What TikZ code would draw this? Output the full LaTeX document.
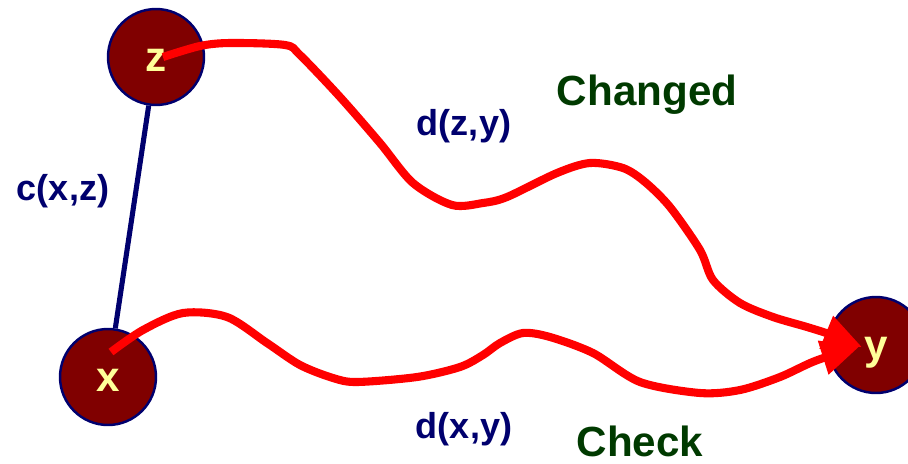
\documentclass[tikz,border=0pt]{standalone}
\usepackage{fontspec}
\setmainfont{Liberation Sans}
\usetikzlibrary{arrows.meta,calc}

\definecolor{nodered}{RGB}{128,0,0}
\definecolor{navyblue}{RGB}{0,0,110}
\definecolor{paleyellow}{RGB}{255,255,153}
\definecolor{darkgreen}{RGB}{0,58,0}

\begin{document}
\begin{tikzpicture}[x=0.02cm, y=-0.02cm,
		vertex/.style={circle, draw=navyblue, line width=1.4pt, fill=nodered, minimum size=1.92cm, inner sep=0pt,
			text=paleyellow, font=\fontsize{24}{24}\selectfont\bfseries, text height=17pt, text depth=0pt},
		route/.style={red, line width=4.6pt, smooth, tension=0.5, -{Triangle[length=22pt, width=19pt]}},
		cost/.style={text=navyblue, font=\fontsize{20.5}{20.5}\selectfont\bfseries, anchor=base},
		note/.style={text=darkgreen, font=\fontsize{24}{24}\selectfont\bfseries, anchor=base}]
		\useasboundingbox (0, 0) rectangle (908, 463);

		\node[vertex] (z) at (156, 57) {z};
		\node[vertex] (x) at (108, 377) {x};
		\node[vertex] (y) at (876, 345) {y};

		\draw[navyblue, line width=2.9pt] (z) -- (x);

		% path through z
		\draw[route] plot coordinates {($(z.center)+(7, 0)$) (200, 46) (230, 43) (285, 45) (300, 55) (340, 97)
			(380, 143) (413, 183) (452, 205) (483, 203) (507, 197) (557, 173) (590, 163) (623, 168) (645, 182)
			(670, 207) (700, 250) (713, 280) (740, 303) (773, 317) (807, 327) (832, 335) ($(y.center)+(-14, 2)$)};

		% direct path
		\draw[route] plot coordinates {($(x.center)+(3, -25)$) (143, 330) (183, 313) (227, 317) (267, 343)
			(300, 365) (333, 378) (357, 382) (417, 377) (460, 367) (483, 355) (500, 343) (523, 333) (550, 337)
			(593, 353) (640, 382) (700, 393) (740, 390) (780, 377) (815, 361) ($(y.center)+(-16, 1)$)};

		\node[cost] (cxz) at (63, 200) {c(x,z)};
		\node[cost] (dzy) at (464, 135) {d(z,y)};
		\node[cost] (dxy) at (464, 438) {d(x,y)};
		\node[note] (changed) at (647, 105) {Changed};
		\node[note] (check) at (640, 456) {Check};
	\end{tikzpicture}
\end{document}
